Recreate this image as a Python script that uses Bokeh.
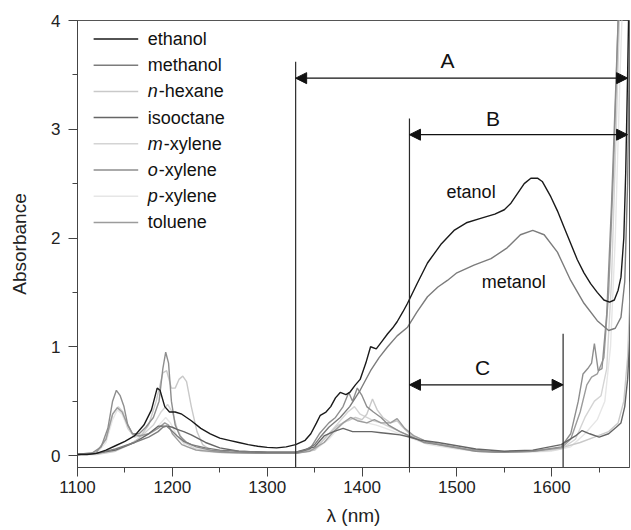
from bokeh.plotting import figure
from bokeh.models import Range1d, SingleIntervalTicker, Arrow, NormalHead
from bokeh.core.properties import value
from bokeh.embed import file_html
from bokeh.resources import INLINE

# ---------------- data ----------------
series_names = ["ethanol", "methanol", "n-hexane", "isooctane",
                "m-xylene", "o-xylene", "p-xylene", "toluene"]
italic_prefix = ["", "", "n", "", "m", "o", "p", ""]
label_rest = ["ethanol", "methanol", "-hexane", "isooctane",
              "-xylene", "-xylene", "-xylene", "toluene"]
series_colors = ["#1a1a1a", "#7c7c7c", "#c9c9c9", "#666666",
                 "#d4d4d4", "#8e8e8e", "#e6e6e6", "#9c9c9c"]

wl_ethanol = [1100, 1110, 1120, 1130, 1140, 1150, 1160, 1170, 1178, 1184, 1187, 1192, 1197, 1203,
              1210, 1220, 1230, 1240, 1250, 1260, 1270, 1280, 1290, 1300, 1310, 1320, 1330, 1340,
              1346, 1352, 1356, 1362, 1367, 1372, 1377, 1383, 1387, 1393, 1398, 1404, 1409, 1415,
              1421, 1427, 1432, 1437, 1443, 1448, 1458, 1469, 1483, 1497, 1510, 1525, 1540, 1550,
              1557, 1564, 1571, 1578, 1585, 1590, 1599, 1606, 1613, 1620, 1627, 1634, 1641, 1648,
              1655, 1661, 1666, 1670, 1673, 1676, 1678, 1680, 1682]
ab_ethanol = [0.01, 0.01, 0.02, 0.05, 0.09, 0.13, 0.18, 0.28, 0.42, 0.62, 0.60, 0.45, 0.40, 0.40,
              0.38, 0.32, 0.25, 0.20, 0.16, 0.14, 0.12, 0.10, 0.085, 0.075, 0.07, 0.08, 0.10, 0.14,
              0.20, 0.30, 0.37, 0.40, 0.45, 0.53, 0.58, 0.56, 0.58, 0.65, 0.70, 0.85, 1.00, 0.98,
              1.05, 1.12, 1.17, 1.23, 1.32, 1.40, 1.58, 1.77, 1.94, 2.07, 2.14, 2.18, 2.22, 2.26,
              2.32, 2.41, 2.50, 2.55, 2.55, 2.52, 2.38, 2.25, 2.10, 1.95, 1.80, 1.68, 1.58, 1.50,
              1.43, 1.41, 1.43, 1.52, 1.64, 2.00, 2.60, 3.50, 4.50]

wl_methanol = [1100, 1120, 1140, 1160, 1175, 1185, 1190, 1194, 1198, 1205, 1212, 1220, 1235, 1250,
               1270, 1300, 1330, 1340, 1350, 1356, 1365, 1377, 1387, 1398, 1409, 1418, 1427, 1437,
               1448, 1458, 1469, 1480, 1490, 1500, 1518, 1536, 1553, 1567, 1580, 1592, 1606, 1620,
               1634, 1648, 1660, 1667, 1673, 1677, 1680, 1683]
ab_methanol = [0.01, 0.02, 0.06, 0.12, 0.17, 0.22, 0.26, 0.27, 0.24, 0.18, 0.13, 0.10, 0.07, 0.05,
               0.04, 0.03, 0.03, 0.05, 0.10, 0.17, 0.26, 0.35, 0.45, 0.60, 0.78, 0.90, 1.00, 1.10,
               1.18, 1.32, 1.46, 1.55, 1.61, 1.68, 1.75, 1.81, 1.91, 2.03, 2.07, 2.03, 1.87, 1.61,
               1.40, 1.24, 1.15, 1.17, 1.27, 1.60, 2.50, 4.50]

wl_hexane = [1100, 1120, 1140, 1155, 1165, 1175, 1183, 1190, 1194, 1199, 1203, 1207, 1211, 1215,
             1220, 1226, 1232, 1240, 1260, 1300, 1330, 1350, 1365, 1375, 1385, 1393, 1400, 1405,
             1411, 1416, 1422, 1430, 1437, 1443, 1450, 1462, 1480, 1500, 1520, 1550, 1580, 1610,
             1630, 1645, 1660, 1670, 1676, 1680, 1683]
ab_hexane = [0.01, 0.01, 0.04, 0.10, 0.16, 0.28, 0.50, 0.76, 0.78, 0.62, 0.62, 0.70, 0.73, 0.68,
             0.45, 0.22, 0.10, 0.05, 0.03, 0.02, 0.02, 0.05, 0.20, 0.28, 0.32, 0.35, 0.33, 0.38,
             0.52, 0.42, 0.35, 0.30, 0.32, 0.26, 0.20, 0.14, 0.10, 0.07, 0.04, 0.03, 0.04, 0.07,
             0.12, 0.17, 0.22, 0.30, 0.50, 0.90, 1.60]

wl_isooctane = [1100, 1120, 1140, 1160, 1175, 1185, 1190, 1195, 1200, 1205, 1212, 1220, 1235, 1250,
                1270, 1300, 1330, 1350, 1360, 1370, 1380, 1390, 1400, 1410, 1420, 1430, 1440, 1450,
                1462, 1480, 1500, 1520, 1550, 1580, 1610, 1625, 1632, 1640, 1650, 1660, 1668, 1673,
                1677, 1680, 1683]
ab_isooctane = [0.01, 0.02, 0.05, 0.12, 0.20, 0.27, 0.27, 0.27, 0.26, 0.24, 0.22, 0.19, 0.12, 0.07,
                0.04, 0.03, 0.03, 0.08, 0.18, 0.22, 0.25, 0.22, 0.22, 0.22, 0.21, 0.20, 0.19, 0.17,
                0.14, 0.12, 0.09, 0.06, 0.04, 0.05, 0.10, 0.18, 0.23, 0.20, 0.17, 0.20, 0.26, 0.30,
                0.45, 0.70, 1.20]

wl_mxylene = [1100, 1120, 1130, 1137, 1143, 1148, 1153, 1160, 1170, 1180, 1188, 1195, 1200, 1205,
              1212, 1225, 1250, 1300, 1330, 1350, 1365, 1375, 1385, 1392, 1398, 1405, 1412, 1420,
              1430, 1440, 1450, 1470, 1490, 1520, 1550, 1590, 1610, 1625, 1635, 1645, 1652, 1658,
              1663, 1668, 1673]
ab_mxylene = [0.01, 0.03, 0.15, 0.38, 0.45, 0.40, 0.25, 0.17, 0.20, 0.28, 0.40, 0.47, 0.40, 0.25,
              0.12, 0.06, 0.03, 0.02, 0.02, 0.06, 0.20, 0.30, 0.40, 0.45, 0.38, 0.35, 0.32, 0.30,
              0.26, 0.22, 0.18, 0.12, 0.08, 0.04, 0.03, 0.04, 0.06, 0.15, 0.35, 0.50, 0.55, 0.80,
              1.60, 3.00, 4.50]

wl_oxylene = [1100, 1115, 1125, 1132, 1137, 1141, 1145, 1149, 1153, 1158, 1165, 1172, 1180, 1186,
              1190, 1193, 1196, 1199, 1203, 1208, 1215, 1225, 1240, 1260, 1300, 1330, 1345, 1355,
              1365, 1372, 1380, 1386, 1390, 1395, 1400, 1405, 1412, 1420, 1428, 1440, 1450, 1465,
              1480, 1500, 1520, 1550, 1580, 1610, 1620, 1628, 1633, 1638, 1642, 1645, 1649, 1653,
              1658, 1663, 1668, 1672]
ab_oxylene = [0.01, 0.02, 0.08, 0.25, 0.50, 0.60, 0.55, 0.45, 0.28, 0.20, 0.20, 0.26, 0.35, 0.50,
              0.80, 0.95, 0.85, 0.50, 0.28, 0.18, 0.12, 0.08, 0.05, 0.03, 0.02, 0.02, 0.06, 0.20,
              0.30, 0.35, 0.45, 0.58, 0.50, 0.62, 0.55, 0.45, 0.40, 0.35, 0.28, 0.22, 0.18, 0.12,
              0.10, 0.07, 0.04, 0.03, 0.04, 0.08, 0.20, 0.50, 0.75, 0.80, 0.85, 1.03, 0.78, 0.80,
              1.30, 2.30, 3.50, 4.50]

wl_pxylene = [1100, 1120, 1130, 1137, 1142, 1147, 1153, 1160, 1170, 1180, 1188, 1193, 1198, 1205,
              1215, 1230, 1260, 1330, 1350, 1365, 1378, 1388, 1395, 1405, 1415, 1425, 1440, 1455,
              1470, 1500, 1530, 1560, 1600, 1620, 1635, 1648, 1656, 1662, 1667, 1672, 1676]
ab_pxylene = [0.01, 0.02, 0.12, 0.33, 0.42, 0.38, 0.25, 0.17, 0.18, 0.22, 0.30, 0.35, 0.30, 0.18,
              0.08, 0.04, 0.02, 0.02, 0.05, 0.15, 0.28, 0.35, 0.33, 0.30, 0.28, 0.25, 0.20, 0.15,
              0.10, 0.06, 0.03, 0.03, 0.04, 0.08, 0.20, 0.33, 0.50, 1.00, 2.00, 3.50, 4.50]

wl_toluene = [1100, 1120, 1130, 1137, 1142, 1147, 1152, 1158, 1165, 1175, 1185, 1192, 1196, 1200,
              1210, 1225, 1250, 1300, 1330, 1345, 1360, 1370, 1380, 1388, 1395, 1405, 1413, 1420,
              1430, 1437, 1445, 1455, 1470, 1490, 1510, 1540, 1580, 1610, 1620, 1630, 1637, 1642,
              1648, 1655, 1660, 1665, 1670, 1674]
ab_toluene = [0.01, 0.03, 0.15, 0.38, 0.44, 0.40, 0.30, 0.20, 0.18, 0.20, 0.25, 0.30, 0.28, 0.20,
              0.10, 0.05, 0.03, 0.02, 0.02, 0.04, 0.12, 0.22, 0.30, 0.35, 0.32, 0.30, 0.33, 0.30,
              0.30, 0.34, 0.25, 0.18, 0.12, 0.09, 0.06, 0.03, 0.04, 0.07, 0.15, 0.40, 0.65, 0.72,
              0.75, 0.90, 1.50, 2.60, 4.00, 4.50]

series_wl = [wl_ethanol, wl_methanol, wl_hexane, wl_isooctane, wl_mxylene, wl_oxylene, wl_pxylene, wl_toluene]
series_ab = [ab_ethanol, ab_methanol, ab_hexane, ab_isooctane, ab_mxylene, ab_oxylene, ab_pxylene, ab_toluene]

# spectral regions A, B, C (nm) and annotation heights (absorbance)
region_names = ["A", "B", "C"]
region_start = [1330, 1450, 1450]
region_end = [1680, 1680, 1612]
region_arrow_y = [3.47, 2.95, 0.65]
boundary_x = [1330, 1450, 1612]
boundary_top = [3.62, 3.10, 1.12]
region_label_x = [1490, 1538, 1527]
region_label_y = [3.63, 3.10, 0.81]

curve_labels = ["etanol", "metanol"]
curve_label_x = [1515, 1560]
curve_label_y = [2.42, 1.60]

x_ticks = [1100, 1200, 1300, 1400, 1500, 1600]
y_ticks = [0, 1, 2, 3, 4]

# ---------------- figure ----------------
FONT = "Liberation Sans"
X0, X1 = 1100, 1682
Y0, Y1 = -0.11, 4.0

p = figure(width=631, height=530, output_backend="svg", toolbar_location=None,
           x_range=Range1d(X0, X1), y_range=Range1d(Y0, Y1),
           min_border_left=77, min_border_right=2, min_border_top=20, min_border_bottom=63)
p.xgrid.visible = False
p.ygrid.visible = False
p.outline_line_color = "#555555"
p.outline_line_width = 1
p.background_fill_color = "white"
p.border_fill_color = "white"

# curves (draw lighter ones first so darker stay visible)
order = [6, 4, 2, 7, 5, 3, 1, 0]
for i in order:
    p.line(series_wl[i], series_ab[i], line_color=series_colors[i], line_width=1.4)

# boundaries
p.segment(x0=boundary_x, y0=[Y0] * 3, x1=boundary_x, y1=boundary_top,
          line_color="#2a2a2a", line_width=1.2)

# arrows
for s, e, y in zip(region_start, region_end, region_arrow_y):
    p.add_layout(Arrow(x_start=s, y_start=y, x_end=e, y_end=y,
                       line_color="#111111", line_width=1.3,
                       start=NormalHead(size=11, fill_color="#111111", line_color="#111111"),
                       end=NormalHead(size=11, fill_color="#111111", line_color="#111111")))

p.text(x=region_label_x, y=region_label_y, text=region_names,
       text_font=value(FONT), text_font_size="21px", text_color="#111111",
       text_align="center", text_baseline="middle")
p.text(x=curve_label_x, y=curve_label_y, text=curve_labels,
       text_font=value(FONT), text_font_size="18px", text_color="#111111",
       text_align="center", text_baseline="middle")

# legend (hand-built for italic prefixes)
leg_x0, leg_x1, leg_tx = 1117, 1164, 1174
leg_top, leg_step = 3.83, 0.241
leg_y = [leg_top - leg_step * i for i in range(len(series_names))]
p.segment(x0=[leg_x0] * 8, y0=leg_y, x1=[leg_x1] * 8, y1=leg_y,
          line_color=series_colors, line_width=1.5)
fs = 18
adv = {"n": 0.556, "m": 0.833, "o": 0.556, "p": 0.556, "": 0.0}
for i in range(len(series_names)):
    if italic_prefix[i]:
        p.text(x=[leg_tx], y=[leg_y[i]], text=[italic_prefix[i]], text_font=value(FONT),
               text_font_size=f"{fs}px", text_font_style="italic", text_color="#111111",
               text_align="left", text_baseline="middle")
    p.text(x=[leg_tx], y=[leg_y[i]], text=[label_rest[i]], text_font=value(FONT),
           text_font_size=f"{fs}px", text_color="#111111", text_align="left",
           text_baseline="middle", x_offset=adv[italic_prefix[i]] * fs + (1 if italic_prefix[i] else 0))

# axes
for ax in (p.xaxis[0], p.yaxis[0]):
    ax.axis_line_color = "#444444"
    ax.major_tick_line_color = "#444444"
    ax.minor_tick_line_color = "#444444"
    ax.major_tick_in = 0
    ax.major_tick_out = 9
    ax.minor_tick_in = 0
    ax.minor_tick_out = 5
    ax.major_label_text_font = FONT
    ax.major_label_text_font_size = "17px"
    ax.major_label_text_color = "#222222"
    ax.axis_label_text_font = FONT
    ax.axis_label_text_font_size = "19px"
    ax.axis_label_text_font_style = "normal"
    ax.axis_label_text_color = "#222222"

p.xaxis[0].ticker = SingleIntervalTicker(interval=100, num_minor_ticks=2)
p.yaxis[0].ticker = SingleIntervalTicker(interval=1, num_minor_ticks=2)
p.xaxis[0].major_label_standoff = 4
p.yaxis[0].major_label_standoff = 8
p.xaxis[0].axis_label = "λ (nm)"
p.yaxis[0].axis_label = "Absorbance"
p.xaxis[0].axis_label_standoff = 9
p.yaxis[0].axis_label_standoff = 18

open("out.html", "w").write(file_html(p, INLINE))
